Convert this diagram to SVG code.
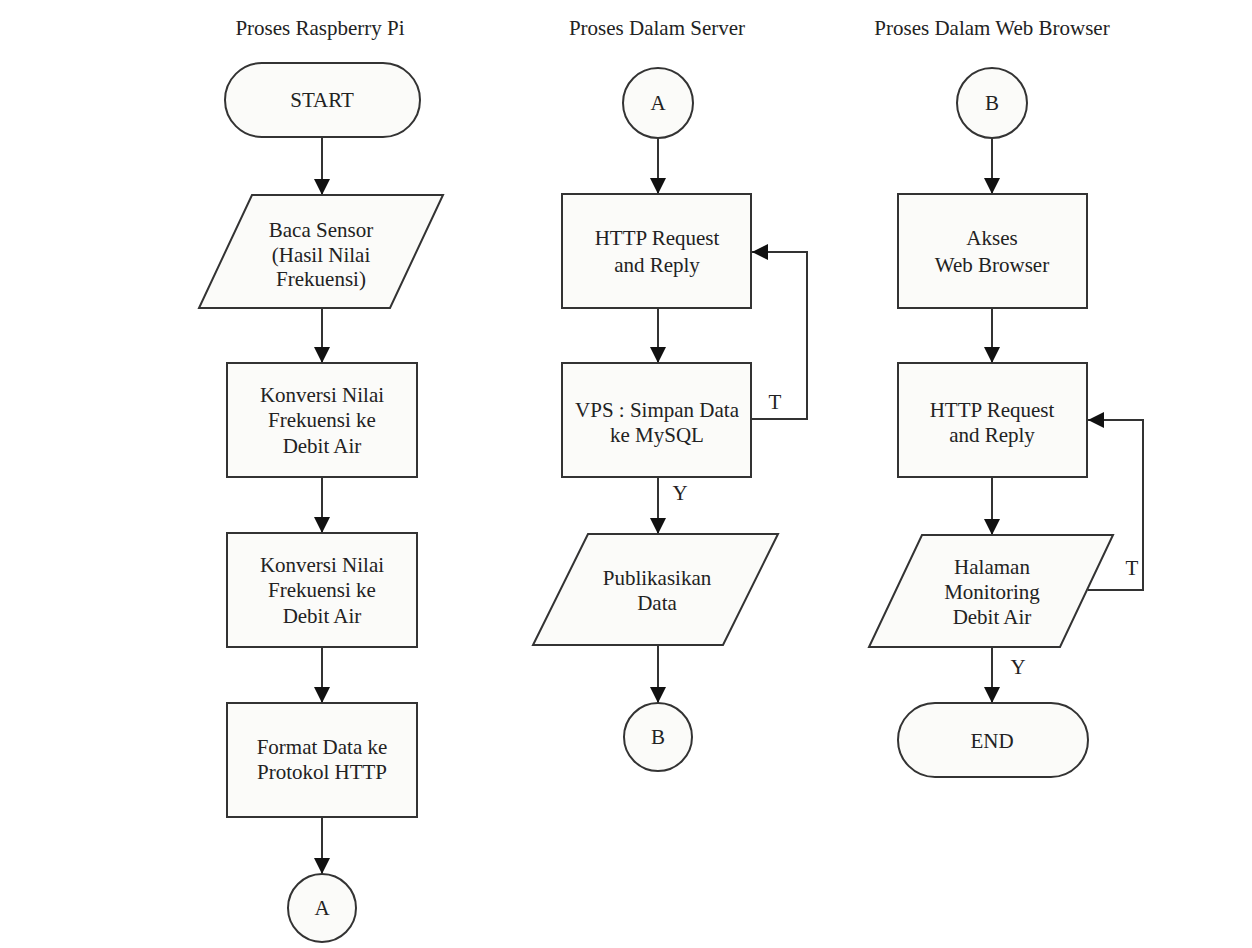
<svg xmlns="http://www.w3.org/2000/svg" width="1252" height="948" viewBox="0 0 1252 948">
<style>
.shape{fill:#fbfbf9;stroke:#333;stroke-width:2}
.line{fill:none;stroke:#333;stroke-width:2}
text{font-family:"Liberation Serif","Times New Roman",serif;font-size:21px;fill:#222;text-anchor:middle}
</style>
<defs>
<marker id="arr" markerUnits="userSpaceOnUse" markerWidth="18" markerHeight="18" viewBox="0 0 18 18" refX="16" refY="9" orient="auto">
<path d="M0,1 L16,9 L0,17 Z" fill="#111"/>
</marker>
</defs>
<rect width="1252" height="948" fill="#ffffff"/>
<g id="titles">
<text x="320" y="35">Proses Raspberry Pi</text>
<text x="657" y="35">Proses Dalam Server</text>
<text x="992" y="35">Proses Dalam Web Browser</text>
</g>
<g id="connectors">
<line class="line" x1="322" y1="137" x2="322" y2="195" marker-end="url(#arr)"/>
<line class="line" x1="322" y1="308" x2="322" y2="363" marker-end="url(#arr)"/>
<line class="line" x1="322" y1="477" x2="322" y2="533" marker-end="url(#arr)"/>
<line class="line" x1="322" y1="647" x2="322" y2="703" marker-end="url(#arr)"/>
<line class="line" x1="322" y1="817" x2="322" y2="874" marker-end="url(#arr)"/>
<line class="line" x1="658" y1="138" x2="658" y2="194" marker-end="url(#arr)"/>
<line class="line" x1="658" y1="308" x2="658" y2="363" marker-end="url(#arr)"/>
<line class="line" x1="658" y1="477" x2="658" y2="534" marker-end="url(#arr)"/>
<line class="line" x1="658" y1="645" x2="658" y2="703" marker-end="url(#arr)"/>
<polyline class="line" points="751,419 807,419 807,252 752,252" marker-end="url(#arr)"/>
<line class="line" x1="992" y1="138" x2="992" y2="194" marker-end="url(#arr)"/>
<line class="line" x1="992" y1="308" x2="992" y2="363" marker-end="url(#arr)"/>
<line class="line" x1="992" y1="477" x2="992" y2="535" marker-end="url(#arr)"/>
<line class="line" x1="992" y1="647" x2="992" y2="703" marker-end="url(#arr)"/>
<polyline class="line" points="1088,590 1143,590 1143,420 1088,420" marker-end="url(#arr)"/>
<text x="775" y="409">T</text>
<text x="680" y="500">Y</text>
<text x="1132" y="575">T</text>
<text x="1018" y="674">Y</text>
</g>
<g id="start">
<rect class="shape" x="225" y="63" width="195" height="74" rx="37"/>
<text x="322" y="107">START</text>
</g>
<g id="baca-sensor">
<polygon class="shape" points="252,195 443,195 390,308 199,308"/>
<text x="321" y="237">Baca Sensor</text>
<text x="321" y="262">(Hasil Nilai</text>
<text x="321" y="286">Frekuensi)</text>
</g>
<g id="konversi-1">
<rect class="shape" x="227" y="363" width="190" height="114"/>
<text x="322" y="402">Konversi Nilai</text>
<text x="322" y="427">Frekuensi ke</text>
<text x="322" y="453">Debit Air</text>
</g>
<g id="konversi-2">
<rect class="shape" x="227" y="533" width="190" height="114"/>
<text x="322" y="572">Konversi Nilai</text>
<text x="322" y="597">Frekuensi ke</text>
<text x="322" y="623">Debit Air</text>
</g>
<g id="format-data">
<rect class="shape" x="227" y="703" width="190" height="114"/>
<text x="322" y="754">Format Data ke</text>
<text x="322" y="779">Protokol HTTP</text>
</g>
<g id="connector-a-out">
<circle class="shape" cx="322" cy="908" r="34"/>
<text x="322" y="915">A</text>
</g>
<g id="connector-a-in">
<circle class="shape" cx="658" cy="103" r="35"/>
<text x="658" y="110">A</text>
</g>
<g id="http-server">
<rect class="shape" x="562" y="194" width="189" height="114"/>
<text x="657" y="245">HTTP Request</text>
<text x="657" y="272">and Reply</text>
</g>
<g id="vps">
<rect class="shape" x="562" y="363" width="189" height="114"/>
<text x="657" y="417">VPS : Simpan Data</text>
<text x="657" y="442">ke MySQL</text>
</g>
<g id="publikasikan">
<polygon class="shape" points="588,534 778,534 723,645 533,645"/>
<text x="657" y="585">Publikasikan</text>
<text x="657" y="610">Data</text>
</g>
<g id="connector-b-out">
<circle class="shape" cx="658" cy="737" r="34"/>
<text x="658" y="744">B</text>
</g>
<g id="connector-b-in">
<circle class="shape" cx="992" cy="103" r="35"/>
<text x="992" y="110">B</text>
</g>
<g id="akses">
<rect class="shape" x="898" y="194" width="189" height="114"/>
<text x="992" y="245">Akses</text>
<text x="992" y="272">Web Browser</text>
</g>
<g id="http-browser">
<rect class="shape" x="898" y="363" width="189" height="114"/>
<text x="992" y="417">HTTP Request</text>
<text x="992" y="442">and Reply</text>
</g>
<g id="halaman">
<polygon class="shape" points="922,535 1113,535 1060,647 869,647"/>
<text x="992" y="574">Halaman</text>
<text x="992" y="599">Monitoring</text>
<text x="992" y="624">Debit Air</text>
</g>
<g id="end">
<rect class="shape" x="898" y="703" width="190" height="74" rx="37"/>
<text x="992" y="748">END</text>
</g>
</svg>
